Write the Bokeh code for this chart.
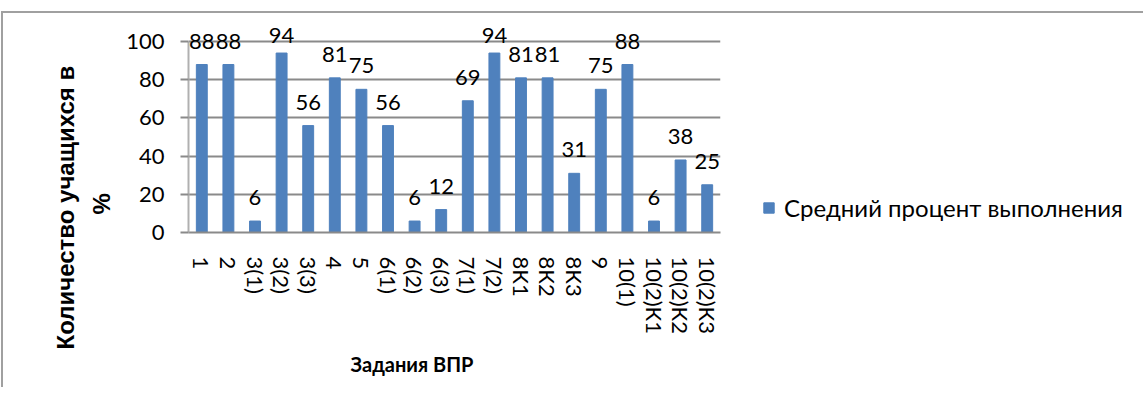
from bokeh.plotting import figure
from bokeh.models import ColumnDataSource, LabelSet, Legend, LegendItem, Title, FactorRange, Range1d
from bokeh.core.properties import value
from bokeh.embed import file_html
from bokeh.resources import INLINE

categories = ["1", "2", "3(1)", "3(2)", "3(3)", "4", "5", "6(1)", "6(2)", "6(3)",
              "7(1)", "7(2)", "8К1", "8К2", "8К3", "9", "10(1)", "10(2)К1", "10(2)К2", "10(2)К3"]
values = [88, 88, 6, 94, 56, 81, 75, 56, 6, 12, 69, 94, 81, 81, 31, 75, 88, 6, 38, 25]
series_name = "Средний процент выполнения"
y_title_line1 = "Количество учащихся в"
y_title_line2 = "%"
x_title = "Задания ВПР"
y_ticks = [0, 20, 40, 60, 80, 100]

FONT = "Lato"
YTITLE_FONT = "Liberation Sans"
GRID = "#8a8a8a"

label_y = [min(v, 91) for v in values]
source = ColumnDataSource(dict(cat=categories, val=values, ly=label_y, txt=[str(v) for v in values]))

p = figure(x_range=FactorRange(*categories, range_padding=0), y_range=Range1d(0, 110),
           frame_width=532, frame_height=210, output_backend="svg", toolbar_location=None,
           min_border_left=185, min_border_top=9, min_border_right=400, min_border_bottom=155)
p.styles = {"margin-left": "1px", "margin-top": "11px",
            "border-left": "2px solid #a0a0a0", "border-top": "2px solid #a0a0a0"}
p.outline_line_color = None
p.background_fill_color = "white"
p.border_fill_color = "white"

r = p.vbar(x="cat", top="val", width=0.41, source=source, fill_color="#4F81BD", line_color="#4F81BD")

labels = LabelSet(x="cat", y="ly", text="txt", source=source, text_align="center",
                  text_baseline="alphabetic", y_offset=16, text_font=value(FONT),
                  text_font_size=value("22px"), text_color="black")
p.add_layout(labels)

p.xgrid.grid_line_color = None
p.ygrid.grid_line_color = GRID
p.ygrid.grid_line_width = 2

p.yaxis.ticker = y_ticks
p.yaxis.bounds = (0, 100)
p.yaxis.axis_line_color = "#b0b0b0"
p.yaxis.axis_line_width = 2
p.yaxis.major_tick_out = 8
p.yaxis.major_tick_in = 0
p.yaxis.major_tick_line_color = GRID
p.yaxis.major_tick_line_width = 2
p.yaxis.minor_tick_line_color = None
p.yaxis.major_label_standoff = 16
p.yaxis.major_label_text_font = FONT
p.yaxis.major_label_text_font_size = "22px"
p.yaxis.major_label_text_color = "black"

p.xaxis.axis_line_color = GRID
p.xaxis.axis_line_width = 2
p.xaxis.major_tick_line_color = None
p.xaxis.minor_tick_line_color = None
p.xaxis.major_label_orientation = "vertical"
p.xaxis.major_label_standoff = 18
p.xaxis.major_label_text_font = FONT
p.xaxis.major_label_text_font_size = "22px"
p.xaxis.major_label_text_color = "black"

t_pct = Title(text=y_title_line2, align="left", offset=18, standoff=18,
              text_font=YTITLE_FONT, text_font_size="24px", text_font_style="bold", text_color="black")
t_y1 = Title(text=y_title_line1, align="left", offset=-117, standoff=-5,
             text_font=YTITLE_FONT, text_font_size="24px", text_font_style="bold", text_color="black")
p.add_layout(t_pct, "left")
p.add_layout(t_y1, "left")

t_x = Title(text=x_title, align="left", offset=162, standoff=24,
            text_font=FONT, text_font_size="20px", text_font_style="bold", text_color="black")
p.add_layout(t_x, "below")

legend = Legend(items=[LegendItem(label=series_name, renderers=[r])],
                location=(42, 10), border_line_color=None, background_fill_alpha=0,
                glyph_width=13, glyph_height=13, label_standoff=9, padding=0, margin=0,
                label_text_font=FONT, label_text_font_size="24px", label_text_color="black")
p.add_layout(legend, "right")

open("out.html", "w").write(file_html(p, INLINE))
